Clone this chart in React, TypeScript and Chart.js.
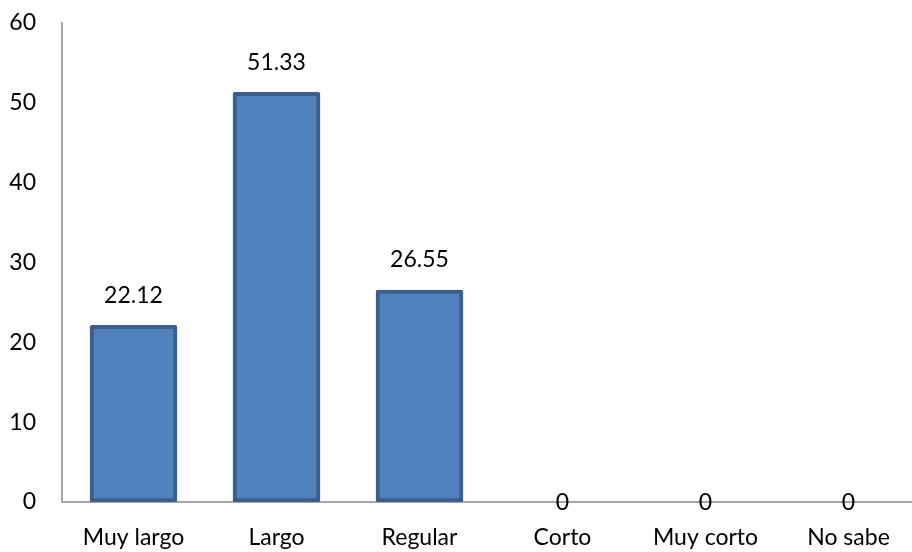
import React, { useEffect, useRef } from "react";
import { Chart, registerables } from "chart.js";

Chart.register(...registerables);

// Response categories and their percentages
const categories: string[] = ["Muy largo", "Largo", "Regular", "Corto", "Muy corto", "No sabe"];
const values: number[] = [22.12, 51.33, 26.55, 0, 0, 0];
const valueLabels: string[] = ["22.12", "51.33", "26.55", "0", "0", "0"];
const yTicks: number[] = [0, 10, 20, 30, 40, 50, 60];

const FONT_FAMILY = "Lato, 'Open Sans', sans-serif";
const FONT_SIZE = 23;
const AXIS_COLOR = "#a6a6a6";

// Draws each bar's value above it (zero values sit on the axis)
const valueLabelPlugin = {
  id: "valueLabels",
  afterDatasetsDraw(chart: Chart) {
    const ctx = chart.ctx;
    const meta = chart.getDatasetMeta(0);
    ctx.save();
    ctx.font = `${FONT_SIZE}px ${FONT_FAMILY}`;
    ctx.fillStyle = "#000000";
    ctx.textAlign = "center";
    ctx.textBaseline = "middle";
    meta.data.forEach((el: any, i: number) => {
      const v = values[i];
      const y = v > 0 ? el.y - 30 : el.y + 1;
      ctx.fillText(valueLabels[i], el.x, y);
    });
    ctx.restore();
  },
};

export default function App() {
  const canvasRef = useRef<HTMLCanvasElement | null>(null);

  useEffect(() => {
    const canvas = canvasRef.current;
    if (!canvas) return;
    const chart = new Chart(canvas, {
      type: "bar",
      data: {
        datasets: [
          {
            data: values.map((v, i) => ({ x: i, y: v })),
            backgroundColor: "#4f81bd",
            borderColor: "#3a5f8d",
            borderWidth: 4,
            borderRadius: 2,
            borderSkipped: false,
            barThickness: 87,
          },
        ],
      },
      options: {
        responsive: false,
        animation: false,
        events: [],
        layout: { padding: { left: 0, top: 23, right: 0, bottom: 0 } },
        plugins: {
          legend: { display: false },
          tooltip: { enabled: false },
          title: { display: false },
        },
        scales: {
          x: {
            type: "linear",
            min: -0.5,
            max: 5.444,
            offset: false,
            grid: { display: false, drawTicks: false, offset: false },
            border: { display: true, color: AXIS_COLOR, width: 2 },
            afterBuildTicks(scale: any) {
              scale.ticks = categories.map((_, i) => ({ value: i }));
            },
            afterFit(scale: any) {
              scale.height = 50;
              scale.paddingLeft = 0;
              scale.paddingRight = 0;
            },
            ticks: {
              autoSkip: false,
              maxRotation: 0,
              padding: 22,
              color: "#000000",
              font: { family: FONT_FAMILY, size: FONT_SIZE },
              callback: (value: any) => categories[Math.round(Number(value))] ?? "",
            },
          },
          y: {
            min: 0,
            max: 60,
            grid: { display: false, drawTicks: false },
            border: { display: true, color: AXIS_COLOR, width: 2 },
            afterBuildTicks(scale: any) {
              scale.ticks = yTicks.map((v) => ({ value: v }));
            },
            afterFit(scale: any) {
              scale.width = 62;
              scale.paddingTop = 0;
              scale.paddingBottom = 0;
            },
            ticks: {
              padding: 26,
              color: "#000000",
              font: { family: FONT_FAMILY, size: FONT_SIZE },
            },
          },
        },
      },
      plugins: [valueLabelPlugin],
    });
    return () => chart.destroy();
  }, []);

  return (
    <div style={{ position: "fixed", left: 0, top: 0, width: 912, height: 552, background: "#ffffff" }}>
      <canvas ref={canvasRef} width={912} height={552} style={{ display: "block" }} />
    </div>
  );
}
